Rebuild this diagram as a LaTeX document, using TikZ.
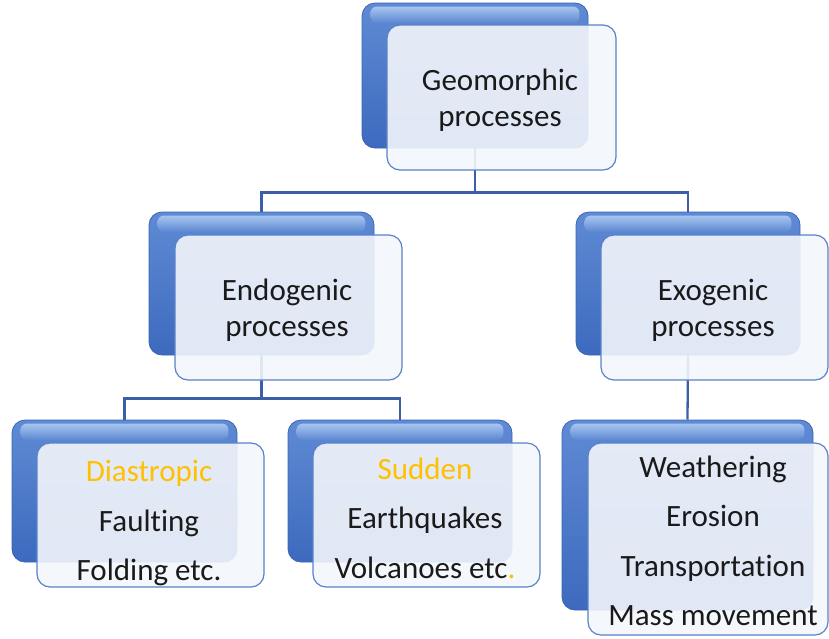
\documentclass[tikz,border=0pt]{standalone}
\usepackage{fontspec}
\setmainfont{Carlito}[Ligatures={NoCommon}]
\usetikzlibrary{calc}
\definecolor{bTop}{HTML}{5F8AD4}
\definecolor{bBot}{HTML}{3D6ABE}
\definecolor{bEdge}{HTML}{3A64B4}
\definecolor{bHi}{HTML}{B4D0F4}
\definecolor{fFill}{HTML}{F3F6FB}
\definecolor{fEdge}{HTML}{5A82C8}
\definecolor{cCol}{HTML}{3A5FA6}
\definecolor{gold}{HTML}{FFC000}
\definecolor{ink}{HTML}{1A1A1A}
\tikzset{
  backbox/.style={rectangle, rounded corners=13pt, top color=bTop, bottom color=bBot,
    draw=bEdge, line width=0.8pt, inner sep=0pt},
  frontbox/.style={rectangle, rounded corners=13pt, fill=fFill, fill opacity=0.9,
    draw=fEdge, draw opacity=1, line width=1.2pt, inner sep=0pt},
  conn/.style={draw=cCol, line width=2.3pt},
  lbl/.style={align=center, text=ink, inner sep=0pt},
  lblA/.style={lbl, font=\fontsize{31}{36}\selectfont},
  lblB/.style={lbl, font=\fontsize{31}{49.5}\selectfont},
}
\newcommand{\gloss}[1]{%
  \shade[top color=bHi, bottom color=bTop, opacity=0.85, rounded corners=6pt]
    ($(#1.north west)+(9,4)$) rectangle ($(#1.north east)+(-9,20)$);
}
\begin{document}
\begin{tikzpicture}[x=1pt,y=-1pt]
\useasboundingbox (0,0) rectangle (829,638);
% back boxes
\node[backbox, minimum width=226pt, minimum height=145pt] (gB) at (475,75.5) {};
\node[backbox, minimum width=225pt, minimum height=143pt] (enB) at (261.5,283.5) {};
\node[backbox, minimum width=224pt, minimum height=143pt] (exB) at (688,283.5) {};
\node[backbox, minimum width=225pt, minimum height=142pt] (diB) at (124.5,491) {};
\node[backbox, minimum width=224pt, minimum height=142pt] (suB) at (400,491) {};
\node[backbox, minimum width=251pt, minimum height=190pt] (wxB) at (687.5,515) {};
\gloss{gB}\gloss{enB}\gloss{exB}\gloss{diB}\gloss{suB}\gloss{wxB}
% connectors
\draw[conn] (gB.south) -- ++(0,44) -| (enB.north);
\draw[conn] (gB.south) -- ++(0,44) -| (exB.north);
\draw[conn] (enB.south) -- ++(0,43) -| (diB.north);
\draw[conn] (enB.south) -- ++(0,43) -| (suB.north);
\draw[conn] (exB.south) -- (wxB.north);
% front boxes
\node[frontbox, minimum width=229pt, minimum height=145pt] (gF) at (501.5,97.5) {};
\node[frontbox, minimum width=227pt, minimum height=145pt] (enF) at (288.5,307.5) {};
\node[frontbox, minimum width=227pt, minimum height=145pt] (exF) at (714.5,307.5) {};
\node[frontbox, minimum width=227pt, minimum height=144pt] (diF) at (150.5,515) {};
\node[frontbox, minimum width=227pt, minimum height=144pt] (suF) at (426.5,515) {};
\node[frontbox, minimum width=240pt, minimum height=192pt] (wxF) at (708,539) {};
% labels
\node[lblA] (gT) at (500,100.5) {Geomorphic\\processes};
\node[lblA] (enT) at (287,310) {Endogenic\\processes};
\node[lblA] (exT) at (713,310) {Exogenic\\processes};
\node[lblB] (diT) at (149,523) {\textcolor{gold}{Diastropic}\\Faulting\\Folding etc.};
\node[lblB] (suT) at (425,518) {\textcolor{gold}{Sudden}\\Earthquakes\\Volcanoes etc\textcolor{gold}{.}};
\node[lblB] (wxT) at (713,541) {Weathering\\Erosion\\Transportation\\Mass movement};
\end{tikzpicture}
\end{document}
